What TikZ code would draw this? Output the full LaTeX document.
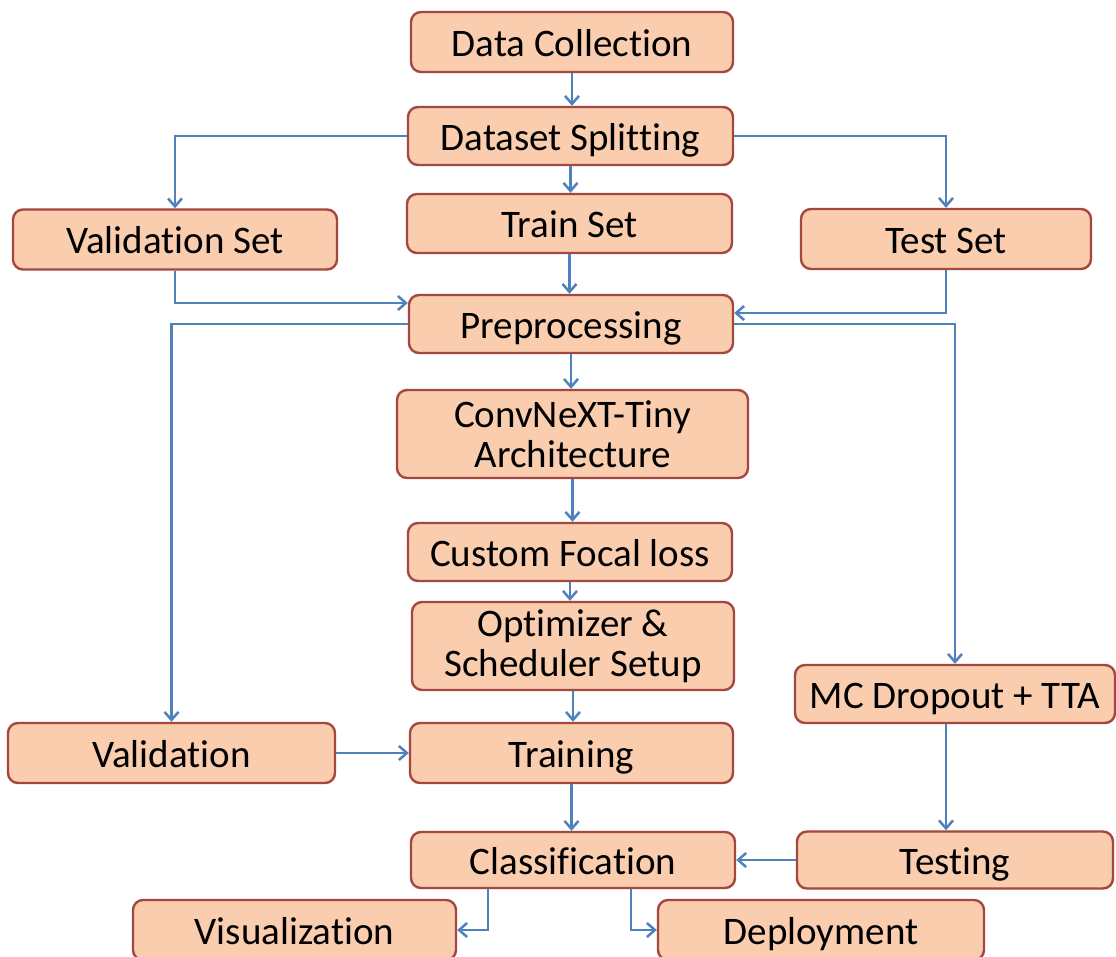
\documentclass[tikz,border=0pt]{standalone}
\usepackage{fontspec}
\setmainfont{Carlito}[Ligatures={NoCommon}]
\usetikzlibrary{arrows.meta}

\definecolor{boxfill}{HTML}{F9CDAE}
\definecolor{boxline}{HTML}{A4473F}
\definecolor{flow}{HTML}{4F81BD}

\tikzset{
  stage/.style={draw=boxline, fill=boxfill, line width=2.4pt,
    rounded corners=10pt, inner sep=0pt, align=center,
    font=\fontsize{39}{40}\selectfont},
  oneline/.style={stage, text height=35pt, text depth=7pt},
  flowline/.style={draw=flow, line width=2.5pt,
    -{Straight Barb[length=8pt,width=14pt,line width=2.5pt]}}
}

\begin{document}
\begin{tikzpicture}[x=1pt, y=-1pt]
  \useasboundingbox (0,0) rectangle (1116,956);

  % process boxes
  \node[oneline, minimum width=322pt, minimum height=60pt] (dc) at (572,42) {Data Collection};
  \node[oneline, minimum width=325pt, minimum height=58pt] (ds) at (570.5,136) {Dataset Splitting};
  \node[oneline, minimum width=325pt, minimum height=59pt] (tr) at (569.5,223.5) {Train Set};
  \node[oneline, minimum width=324pt, minimum height=60pt] (vs) at (175,239.5) {Validation Set};
  \node[oneline, minimum width=290pt, minimum height=60pt] (ts) at (946,239) {Test Set};
  \node[oneline, minimum width=324pt, minimum height=58pt] (pp) at (571,324) {Preprocessing};
  \node[stage, minimum width=351pt, minimum height=88pt] (cn) at (572.5,434) {ConvNeXT-Tiny\\Architecture};
  \node[oneline, minimum width=324pt, minimum height=58pt] (cf) at (570,552) {Custom Focal loss};
  \node[stage, minimum width=322pt, minimum height=88pt] (op) at (573,646) {Optimizer \&\\Scheduler Setup};
  \node[oneline, minimum width=320pt, minimum height=58pt] (mc) at (955,694) {MC Dropout + TTA};
  \node[oneline, minimum width=327pt, minimum height=60pt] (va) at (171.5,753) {Validation};
  \node[oneline, minimum width=323pt, minimum height=60pt] (tg) at (571.5,753) {Training};
  \node[oneline, minimum width=324pt, minimum height=56pt] (cl) at (573,860) {Classification};
  \node[oneline, minimum width=316pt, minimum height=57pt] (te) at (955,860) {Testing};
  \node[oneline, minimum width=323pt, minimum height=60pt] (vz) at (294.5,930) {Visualization};
  \node[oneline, minimum width=326pt, minimum height=60pt] (de) at (821,930) {Deployment};

  % connectors
  \draw[flowline] (dc.south) -- (dc.south |- ds.north);
  \draw[flowline] (ds.south) -- (ds.south |- tr.north);
  \draw[flowline] (ds.west) -| (vs.north);
  \draw[flowline] (ds.east) -| (ts.north);
  \draw[flowline] (tr.south) -- (tr.south |- pp.north);
  \draw[flowline] (vs.south) |- ([yshift=21pt]pp.west);
  \draw[flowline] (ts.south) |- ([yshift=11pt]pp.east);
  \draw[flowline] (pp.west) -| (va.north);
  \draw[flowline] (pp.east) -| (mc.north);
  \draw[flowline] (pp.south) -- (pp.south |- cn.north);
  \draw[flowline] (cn.south) -- (cn.south |- cf.north);
  \draw[flowline] (cf.south) -- (cf.south |- op.north);
  \draw[flowline] (op.south) -- (op.south |- tg.north);
  \draw[flowline] (va.east) -- (tg.west);
  \draw[flowline] (tg.south) -- (tg.south |- cl.north);
  \draw[flowline] ([xshift=-9pt]mc.south) -- ([xshift=-9pt]te.north);
  \draw[flowline] (te.west) -- (cl.east);
  \draw[flowline] ([xshift=-85pt]cl.south) |- (vz.east);
  \draw[flowline] ([xshift=58pt]cl.south) |- (de.west);
\end{tikzpicture}
\end{document}
